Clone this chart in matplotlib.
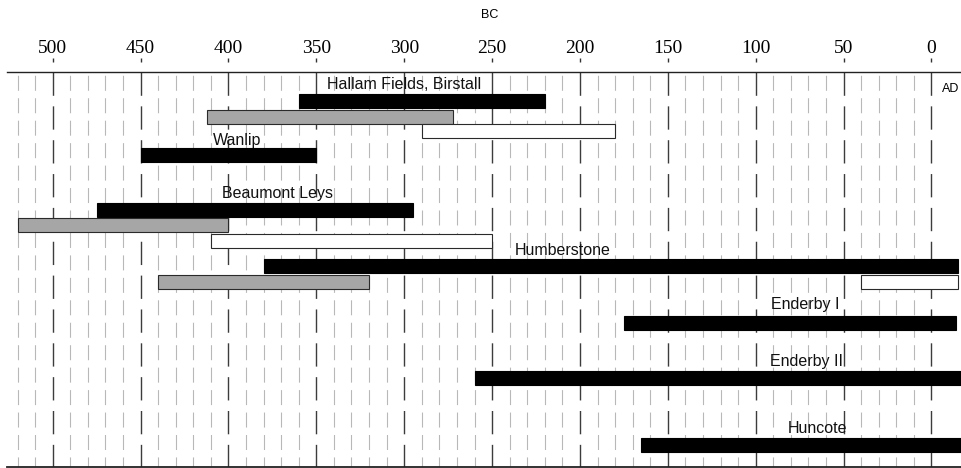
import matplotlib
matplotlib.use("Agg")
import matplotlib.pyplot as plt

plt.rcParams['lines.scale_dashes'] = False

# ---- data (years BC; negative = AD) ----
sites = ["Hallam Fields, Birstall", "Wanlip", "Beaumont Leys", "Humberstone",
         "Enderby I", "Enderby II", "Huncote"]
bar_site = ["Hallam Fields, Birstall", "Hallam Fields, Birstall", "Hallam Fields, Birstall",
            "Wanlip",
            "Beaumont Leys", "Beaumont Leys", "Beaumont Leys",
            "Humberstone", "Humberstone", "Humberstone",
            "Enderby I", "Enderby II", "Huncote"]
bar_start = [360, 412, 290, 450, 475, 520, 410, 380, 440, 40, 175, 260, 165]
bar_end = [220, 272, 180, 350, 295, 400, 250, -15, 320, -15, -14, -30, -30]
bar_kind = ["black", "grey", "white", "black", "black", "grey", "white",
            "black", "grey", "white", "black", "black", "black"]
tick_values = [500, 450, 400, 350, 300, 250, 200, 150, 100, 50, 0]
grid_minor = [v for v in range(10, 521, 10) if v % 50 != 0]
grid_major = [v for v in range(0, 501, 50)]

# ---- layout (pixel offsets from top of plot area) ----
bar_y = [29.3, 45.0, 59.6, 83.1, 138.5, 153.6, 169.6, 194.6, 210.5, 210.5, 250.8, 306.3, 373.0]
label_x = [300, 395, 372, 210, 72, 71, 65]
label_y = [17.3, 73.3, 126.3, 183.3, 237.5, 294.3, 361.3]

fill = {"black": "#000000", "grey": "#a6a6a6", "white": "#ffffff"}
edge = {"black": "#000000", "grey": "#2a2a2a", "white": "#2a2a2a"}

W, H = 961, 468
fig = plt.figure(figsize=(W / 100, H / 100), dpi=100)
top_px, bot_px, left_px, right_px = 71.7, 466.7, 7, 980
ax = fig.add_axes([left_px / W, 1 - bot_px / H, (right_px - left_px) / W, (bot_px - top_px) / H])
ppu = 1.7576
ax.set_xlim(526, 526 - (right_px - left_px) / ppu)
ax.set_ylim(bot_px - top_px, 0)
hgt = bot_px - top_px

# grid lines
pt = 72 / 100
ax.vlines(grid_minor, 0, hgt, colors="#b8b8b8", linewidth=0.8,
          linestyles=[(19.15 * pt, (15.0 * pt, 7.45 * pt))], zorder=1)
ax.vlines(grid_major, 0, hgt, colors="#3c3c3c", linewidth=1.0,
          linestyles=[(0, (23.3 * pt, 10.55 * pt))], zorder=1)

# bars
for s, e, k, y in zip(bar_start, bar_end, bar_kind, bar_y):
    ax.barh(y, s - e, left=e, height=14, color=fill[k], edgecolor=edge[k],
            linewidth=0.8, zorder=3)

# labels
for name, lx, ly in zip(sites, label_x, label_y):
    ax.text(lx, ly, name, ha="center", va="baseline", fontsize=11.5,
            family="Liberation Sans", color="#111111", zorder=4)

# spines / ticks
for sp in ["left", "right", "bottom"]:
    ax.spines[sp].set_visible(False)
ax.spines["top"].set_position(("outward", 9.5 * pt))
ax.spines["top"].set_visible(False)
ax.axhline(0, color="#222222", linewidth=1.0, clip_on=False, zorder=5)
ax.axhline(hgt, color="#222222", linewidth=1.3, clip_on=False, zorder=5)
ax.xaxis.tick_top()
ax.set_xticks(tick_values)
ax.set_xticklabels([str(v) for v in tick_values], family="Liberation Serif", fontsize=14)
ax.tick_params(axis="x", which="major", length=4 * pt, width=1.0, color="#333333",
               direction="out", pad=1.0)
ax.set_yticks([])

fig.text(490 / W, 1 - 18.3 / H, "BC", ha="center", va="baseline", fontsize=9,
         family="Liberation Sans")
fig.text(941.7 / W, 1 - 91.7 / H, "AD", ha="left", va="baseline", fontsize=9,
         family="Liberation Sans")

fig.savefig("out.png", dpi=100)
